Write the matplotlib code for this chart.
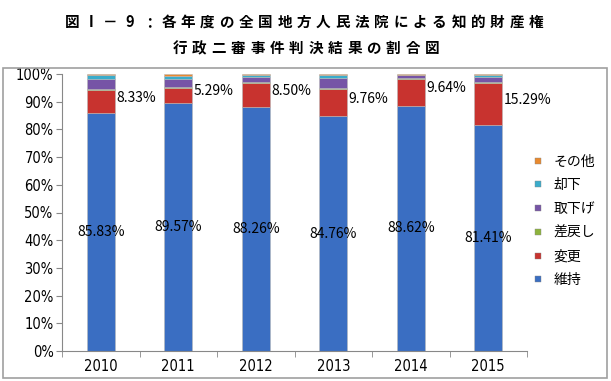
import matplotlib
matplotlib.use("Agg")
import matplotlib.pyplot as plt
import numpy as np
from matplotlib.patches import Rectangle
from matplotlib.lines import Line2D

plt.rcParams['font.family'] = ['Noto Sans CJK JP', 'DejaVu Sans']

years = ['2010', '2011', '2012', '2013', '2014', '2015']
series_names = ['維持', '変更', '差戻し', '取下げ', '却下', 'その他']
ijii = [85.83, 89.57, 88.26, 84.76, 88.62, 81.41]      # 維持
henkou = [8.33, 5.29, 8.50, 9.76, 9.64, 15.29]          # 変更
sashimodoshi = [0.5, 0.5, 0.5, 0.5, 0.3, 0.3]           # 差戻し
torisage = [3.5, 3.0, 1.5, 3.5, 1.0, 2.0]               # 取下げ
kyakka = [1.5, 1.0, 0.8, 1.0, 0.2, 0.5]                 # 却下
sonota = [0.34, 0.64, 0.44, 0.48, 0.24, 0.50]           # その他
colors = ['#3a6ec2', '#c8332f', '#8db33c', '#7654a6', '#3aaccb', '#e8892e']

fig = plt.figure(figsize=(6.11, 3.81), dpi=100)
ax = fig.add_axes([62 / 611, 30 / 381, 465 / 611, 277 / 381])

x = np.arange(len(years))
bw = 0.36
bottom = np.zeros(len(years))
handles = []
for name, vals, c in zip(series_names, [ijii, henkou, sashimodoshi, torisage, kyakka, sonota], colors):
    ax.bar(x, vals, bw, bottom=bottom, color=c, edgecolor='#b8b8b8', linewidth=0.4)
    bottom = bottom + np.array(vals)
    handles.append(Line2D([], [], marker='s', linestyle='', markersize=5, color=c,
                          markeredgecolor='#888888', markeredgewidth=0.3, label=name))

# data labels
for i in range(len(years)):
    ax.text(x[i], ijii[i] / 2, '%.2f%%' % ijii[i], ha='center', va='center', fontsize=10)
    ax.text(x[i] + bw / 2 + 0.02, ijii[i] + henkou[i] / 2 + 1.5, '%.2f%%' % henkou[i],
            ha='left', va='center', fontsize=10)

tick_font = dict(family='DejaVu Sans', fontstretch='condensed', fontsize=10.5)
ax.set_xlim(-0.5, len(years) - 0.5)
ax.set_ylim(0, 100)
ax.set_yticks(np.arange(0, 101, 10))
ax.set_yticklabels(['%d%%' % v for v in range(0, 101, 10)], **tick_font)
ax.set_xticks(x)
ax.set_xticklabels(years, **tick_font)
ax.set_xticks(np.arange(-0.5, len(years)), minor=True)
ax.tick_params(axis='x', which='major', length=0, pad=6)
ax.tick_params(axis='x', which='minor', length=4, color='#888888')
ax.tick_params(axis='y', length=4, color='#888888', pad=2)
for s in ['top', 'right']:
    ax.spines[s].set_visible(False)
for s in ['left', 'bottom']:
    ax.spines[s].set_color('#888888')

ax.legend(handles=handles[::-1], loc='center left', bbox_to_anchor=(0.972, 0.47), frameon=False,
          fontsize=10, handletextpad=0.15, labelspacing=0.7, borderaxespad=0.3)

# outer border
fig.patches.append(Rectangle((3 / 611, 3 / 381), 604 / 611, 310 / 381, transform=fig.transFigure,
                             fill=False, edgecolor='#a0a0a0', linewidth=1.2))

# title, laid out char by char to get the wide letter spacing
line1 = ['図', 'Ⅰ', '－', '9', '：', '各', '年', '度', 'の', '全', '国', '地', '方', '人', '民',
         '法', '院', 'に', 'よ', 'る', '知', '的', '財', '産', '権']
line2 = list('行政二審事件判決結果の割合図')
for chars, y, x0, x1 in [(line1, 22, 72, 536), (line2, 48, 180, 432)]:
    xs = np.linspace(x0, x1, len(chars))
    for ch, xc in zip(chars, xs):
        fig.text(xc / 611, 1 - y / 381, ch, ha='center', va='center', fontsize=10.5, fontweight='bold')

fig.savefig('out.png', dpi=100)
